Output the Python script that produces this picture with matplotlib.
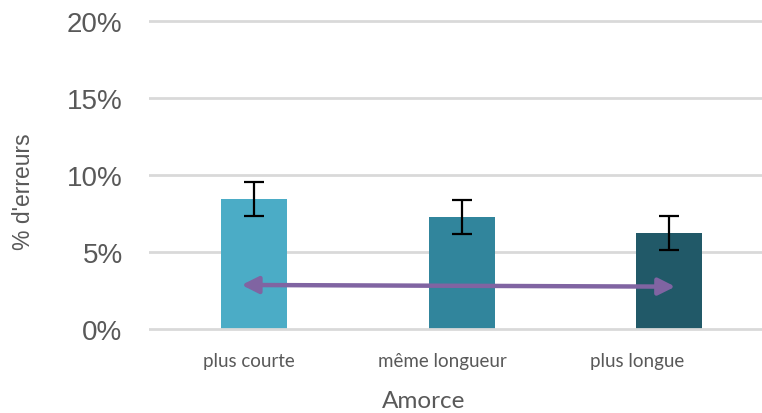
import matplotlib
matplotlib.use("Agg")
import matplotlib.pyplot as plt
import numpy as np

categories = ["plus courte", "même longueur", "plus longue"]
error_rates = [8.45, 7.30, 6.25]      # % d'erreurs
error_margin = [1.10, 1.10, 1.10]
arrow_start = (-0.06, 2.86)
arrow_end = (2.03, 2.75)
y_ticks = [0, 5, 10, 15, 20]

bar_colors = ["#4BACC6", "#31859C", "#215968"]
grid_color = "#D9D9D9"
text_color = "#595959"

W, H = 762, 414
fig = plt.figure(figsize=(W / 100, H / 100), dpi=100)
px_per_pct = 15.4
y0, y20 = 330, 22
pad = 0.4
bottom_px = y0 + pad * px_per_pct
top_px = y20 - pad * px_per_pct
ax = fig.add_axes([149 / W, 1 - bottom_px / H, (W - 149) / W, (bottom_px - top_px) / H])

x = np.arange(len(categories))
ax.bar(x, error_rates, width=0.318, color=bar_colors, zorder=2)
ax.errorbar(x, error_rates, yerr=error_margin, fmt="none", ecolor="black",
            elinewidth=1.6, capsize=7, capthick=1.6, zorder=3)

for t in y_ticks:
    ax.axhline(t, color=grid_color, lw=2, zorder=1 if t else 4)

ax.annotate("", xy=arrow_end, xytext=arrow_start,
            arrowprops=dict(arrowstyle="<|-|>,head_length=1.0,head_width=0.5",
                            color="#8064A2", lw=3.2, shrinkA=0, shrinkB=0),
            zorder=5)

ax.set_xlim(-0.506, 2.448)
ax.set_ylim(-pad, 20 + pad)
ax.set_yticks(y_ticks)
ax.set_yticklabels([f"{t}%" for t in y_ticks], fontfamily="Liberation Sans",
                   fontsize=20, color=text_color)
ax.tick_params(axis="y", length=0, pad=19)

label_offsets = [-0.024, -0.094, -0.156]
ax.set_xticks(x + np.array(label_offsets))
ax.set_xticklabels(categories, fontfamily="Lato", fontsize=13.5, color=text_color)
ax.tick_params(axis="x", length=0, pad=12)

for s in ax.spines.values():
    s.set_visible(False)

fig.text(424 / W, 1 - 402 / H, "Amorce", ha="center", va="center",
         fontfamily="Lato", fontsize=17.5, color=text_color)
fig.text(24 / W, 1 - 192 / H, "% d'erreurs", ha="center", va="center", rotation=90,
         fontfamily="Liberation Sans", fontsize=16.5, color=text_color)

fig.savefig("out.png", dpi=100)
